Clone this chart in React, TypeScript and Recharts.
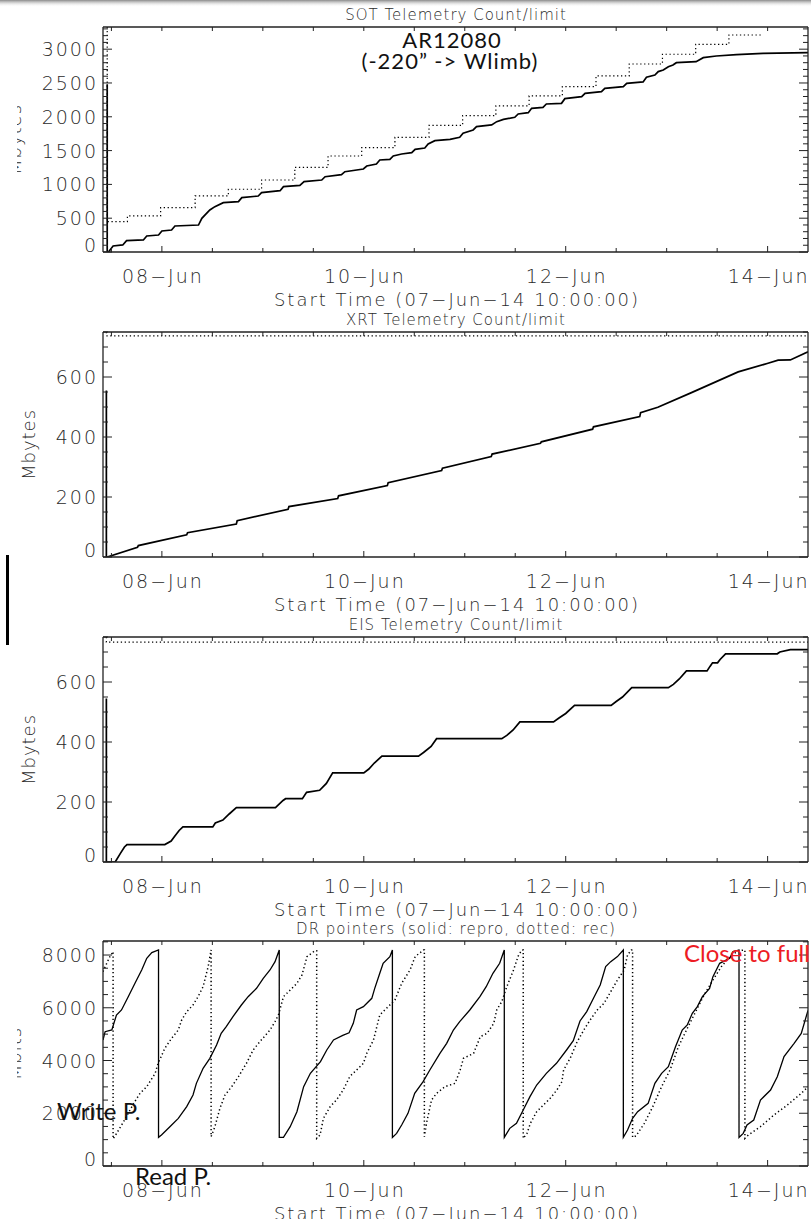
import React from "react";
import { LineChart, Line, XAxis, YAxis } from "recharts";

type Pt = [number, number];

// x in hours after 07-Jun-14 10:00
const X_MAX = 167.6;
const HOUR_TICKS = [2, 14, 26, 38, 50, 62, 74, 86, 98, 110, 122, 134, 146, 158];
const DAY_LABELS: Record<number, string> = { 14: "08−Jun", 62: "10−Jun", 110: "12−Jun", 158: "14−Jun" };

// SOT telemetry count (solid) and limit (dotted), Mbytes
const sotCount: Pt[] = [
  [1.0, 2480], [1.0, 0], [1.3, 0], [2.4, 89], [4.7, 104], [5.6, 168], [9.6, 178], [10.4, 237], [13.2, 251],
  [14, 311], [16.3, 325], [17.1, 385], [22.7, 399], [23.5, 498], [25.4, 621], [26.6, 671], [28.6, 730],
  [32.2, 745], [33, 804], [36.9, 828], [37.7, 878], [42.1, 907], [42.9, 966], [46.8, 986], [47.8, 1040],
  [52, 1065], [52.8, 1114], [56.7, 1144], [57.5, 1188], [61.9, 1228], [62.7, 1272], [65, 1302], [65.8, 1361],
  [68.2, 1371], [69, 1420], [71, 1450], [73.4, 1469], [74.2, 1519], [76.5, 1538], [77.3, 1598], [78.9, 1647],
  [82.5, 1667], [84.8, 1696], [85.6, 1756], [88, 1805], [88.8, 1854], [92.4, 1879], [93.6, 1928], [95.2, 1962],
  [97.9, 1992], [98.7, 2041], [101.1, 2061], [101.9, 2125], [104.6, 2140], [105.4, 2189], [109, 2199],
  [109.8, 2268], [113.8, 2298], [114.6, 2347], [118.5, 2372], [119.3, 2421], [123.7, 2446], [124.5, 2495],
  [128.4, 2515], [129.2, 2584], [131.2, 2618], [132, 2668], [133.2, 2692], [134.4, 2741], [135.5, 2766],
  [136.3, 2800], [141, 2815], [142.7, 2874], [145.8, 2899], [150.6, 2919], [156.9, 2938], [167.6, 2948],
];
const sotLimit: Pt[] = [
  [1.0, 3328], [1.0, 449], [5.8, 533], [13.7, 657], [21.9, 829], [29.8, 928], [37.7, 1065], [45.6, 1253],
  [53.5, 1420], [61.5, 1544], [69.4, 1696], [77.5, 1874], [85.5, 2017], [93.4, 2160], [101.3, 2308],
  [109.2, 2446], [117.2, 2604], [125.1, 2781], [133, 2925], [140.9, 3072], [148.8, 3210], [156.5, 3210],
];

// XRT
const xrtCount: Pt[] = [
  [0.8, 555], [0.8, 0], [1.0, 0], [8.2, 32], [8.4, 38], [19.9, 74], [20.1, 81], [31.7, 110], [31.9, 121],
  [44, 159], [44.2, 168], [55.8, 195], [56, 204], [67.6, 238], [67.8, 248], [80.5, 288], [80.7, 296],
  [92.3, 335], [92.5, 343], [104, 379], [104.2, 384], [116.4, 426], [116.6, 434], [127.6, 468], [127.8, 481],
  [131.9, 499], [139.9, 548], [151, 617], [157.9, 645], [160.5, 656], [163.4, 657], [167.6, 684],
];
const xrtLimit: Pt[] = [[0.8, 750], [0.8, 737], [167.6, 737]];

// EIS
const eisCount: Pt[] = [
  [0.8, 545], [0.8, 0], [2.9, 0], [4.1, 28], [5.1, 50], [5.7, 58], [14.7, 58], [16.2, 70], [17, 85], [18.1, 105],
  [19, 117], [26.1, 117], [26.7, 130], [28.5, 140], [30, 160], [31.7, 181], [41, 181], [42.8, 205], [43.4, 211],
  [47.4, 211], [48.4, 232], [51.5, 239], [53.1, 262], [54.6, 297], [62, 297], [63.2, 310], [64.5, 330],
  [66.3, 353], [75, 353], [76.2, 365], [78, 385], [79.3, 411], [94.8, 411], [96, 422], [97.5, 440], [99.1, 467],
  [107.1, 467], [108.4, 480], [110, 495], [112.1, 522], [120.8, 522], [122, 535], [123.5, 550], [125.7, 581],
  [134.4, 581], [135.6, 592], [137, 610], [138.7, 637], [143.6, 637], [144.3, 652], [144.9, 664], [146.1, 664],
  [146.7, 675], [148, 694], [160.3, 694], [160.9, 700], [163.4, 708], [167.6, 708],
];
const eisLimit: Pt[] = [[0.8, 750], [0.8, 733], [167.6, 733]];

// DR pointers, Mbits (solid: repro, dotted: rec)
const drRepro: Pt[] = [
  [0, 4778], [0.5, 5094], [2.1, 5157], [3.2, 5726], [4.4, 5916], [6.0, 6421], [7.6, 6927], [9.2, 7433],
  [10.4, 7875], [11.6, 8090], [13.2, 8191],
  [13.2, 1086], [13.9, 1175], [15.9, 1491], [17.9, 1807], [19.9, 2250], [21.4, 2692], [22.2, 3134],
  [23.8, 3703], [25.4, 4082], [27, 4588], [28.1, 5030], [29.3, 5283], [30.9, 5663], [32.9, 6105],
  [34.5, 6421], [36.5, 6737], [38.1, 7117], [39.7, 7433], [40.9, 7749], [41.9, 8191],
  [41.9, 1086], [42.9, 1086], [44.5, 1491], [46.1, 2060], [47.7, 3008], [49.3, 3514], [51.7, 3956],
  [53.2, 4399], [54.8, 4778], [57, 4950], [58.5, 5050], [59.5, 5410], [60.3, 5916], [61.9, 6042],
  [63.9, 6358], [64.6, 6737], [65.8, 7306], [66.6, 7686], [68.2, 7939], [68.8, 8191],
  [68.8, 1086], [69.8, 1238], [71, 1554], [72.5, 1997], [74.1, 2755], [76.1, 3198], [77.7, 3640],
  [80.1, 4272], [81.7, 4652], [83.3, 5157], [84.8, 5473], [87.2, 5916], [89.6, 6421], [91.1, 6800],
  [92.7, 7306], [94.3, 7686], [95.4, 8191],
  [95.4, 1086], [96.7, 1428], [98.3, 1617], [99.9, 2123], [101.5, 2629], [103.1, 3071], [105.4, 3514],
  [107.8, 3893], [110.2, 4399], [111.8, 4750], [113.4, 5500], [115, 5853], [116.6, 6358], [118.2, 6864],
  [119.5, 7559], [120.7, 7749], [122.3, 7939], [123.7, 8191],
  [123.7, 1086], [124.7, 1365], [125.9, 1807], [127.1, 2060], [129.6, 2376], [131.2, 3134], [132.8, 3514],
  [134.4, 3767], [136.1, 4525], [137.7, 5157], [138.9, 5347], [140.1, 5790], [141.3, 6042], [142.5, 6421],
  [144.2, 6737], [145, 7180], [146.6, 7686], [149, 7875], [149.8, 8128], [151.2, 8191],
  [151.2, 1086], [152.2, 1238], [153.1, 1554], [154.7, 1744], [156.3, 2502], [158.7, 2882], [160.3, 3387],
  [161.9, 4146], [164.3, 4652], [166, 5030], [167.6, 5900],
];
const drRec: Pt[] = [
  [0, 7370], [1.5, 7900], [2.4, 8130],
  [2.4, 1030], [3, 1175], [4.9, 1681], [7.3, 2376], [8.8, 2755], [10.4, 3008], [12.4, 3514], [13.1, 3893],
  [14.7, 4462], [16.3, 4841], [17.9, 5157], [18.7, 5536], [19.9, 5852], [21.4, 6105], [22.6, 6421],
  [23.8, 6800], [25, 7559], [25.7, 8191],
  [25.7, 1112], [26.6, 1491], [27.8, 2187], [29, 2692], [30.6, 3008], [32.2, 3387], [34.1, 3893],
  [35.7, 4399], [37.3, 4715], [39.7, 5157], [40.9, 5473], [41.7, 5726], [42.9, 6421], [44.5, 6674],
  [46.1, 6927], [47.3, 7243], [48.5, 7939], [50.4, 8166], [50.8, 8166],
  [50.8, 1049], [51.6, 1175], [52.4, 1807], [54, 2250], [55.5, 2502], [57.1, 2882], [58.7, 3400],
  [60.3, 3640], [61.9, 3893], [62.7, 4272], [64.3, 4778], [65.8, 5726], [67.8, 6042], [69.4, 6295],
  [71, 6927], [73, 7433], [74.2, 7939], [76.2, 8191], [76.4, 8191],
  [76.4, 1112], [76.9, 1617], [78.1, 2502], [79.3, 2755], [81.3, 3008], [83.7, 3134], [84.9, 3640],
  [85.7, 4082], [88.1, 4272], [89.7, 4905], [91.3, 5030], [92.9, 5410], [93.6, 5916], [94.8, 6232],
  [96, 6800], [97.6, 7433], [98.8, 8002], [99.6, 8191], [99.9, 8191],
  [99.9, 1049], [100.8, 1238], [101.6, 1617], [103.1, 2060], [104.7, 2313], [106.3, 2566], [107.9, 2882],
  [109.1, 3198], [109.5, 3640], [111.1, 4100], [112.7, 4700], [114.3, 5157], [115.8, 5536], [117.5, 5916],
  [119.1, 6169], [120.7, 6611], [122.3, 7053], [123.9, 7433], [124.7, 8002], [125.6, 8191], [125.9, 8191],
  [125.9, 1086], [126.7, 1137], [128.7, 1617], [130.7, 2250], [132.8, 3008], [134.8, 3640], [136.8, 4525],
  [138.9, 5220], [140.9, 5853], [142.9, 6484], [145, 7053], [147, 7559], [149, 7939], [151, 8166], [152.6, 8191],
  [152.6, 1049], [153.4, 1175], [156.3, 1491], [159.5, 1934], [162.7, 2313], [166, 2755], [167.6, 3008],
];

const AXIS = "#222";
const TXT = "#2a2a2a";
const IDL_FONT = "'DejaVu Sans', sans-serif";
const NOTE_FONT = "Lato, 'Open Sans', sans-serif";

const rows = (pts: Pt[]) => pts.map(([h, v]) => ({ h, v }));

type Series = { pts: Pt[]; dotted?: boolean; step?: boolean; width?: number };
type PanelCfg = {
  top: number; title: string; yLabel: string; cut: boolean;
  yMax: number; yStep: number; yMajor: number; series: Series[];
};

const panels: PanelCfg[] = [
  { top: 0, title: "SOT Telemetry Count/limit", yLabel: "Mbytes", cut: true, yMax: 3328, yStep: 100, yMajor: 500,
    series: [{ pts: sotCount, width: 1.7 }, { pts: sotLimit, dotted: true, step: true }] },
  { top: 305, title: "XRT Telemetry Count/limit", yLabel: "Mbytes", cut: false, yMax: 750, yStep: 50, yMajor: 200,
    series: [{ pts: xrtCount, width: 1.7 }, { pts: xrtLimit, dotted: true }] },
  { top: 610, title: "EIS Telemetry Count/limit", yLabel: "Mbytes", cut: false, yMax: 750, yStep: 50, yMajor: 200,
    series: [{ pts: eisCount, width: 1.7 }, { pts: eisLimit, dotted: true }] },
  { top: 914, title: "DR pointers (solid: repro, dotted: rec)", yLabel: "Mbits", cut: true, yMax: 8532, yStep: 500, yMajor: 2000,
    series: [{ pts: drRepro, width: 1.3 }, { pts: drRec, dotted: true, width: 1.5 }] },
];

const labelText = { fontFamily: IDL_FONT, fontWeight: 200, fontSize: 19, fill: TXT, letterSpacing: 2 };

function bottomTick(p: any) {
  const { x, y, payload } = p;
  const lab = DAY_LABELS[payload.value];
  return (
    <g>
      <line x1={x} x2={x} y1={y} y2={y - (lab ? 6 : 4)} stroke={AXIS} strokeWidth={1} />
      {lab ? <text x={x + 1} y={y + 31} textAnchor="middle" style={labelText}>{lab}</text> : null}
    </g>
  );
}

function topTick(p: any) {
  const { x, y } = p;
  return <line x1={x} x2={x} y1={y} y2={y + 4} stroke={AXIS} strokeWidth={1} />;
}

function leftTick(major: number) {
  return (p: any) => {
    const { x, y, payload } = p;
    const v = payload.value as number;
    const isMajor = v % major === 0;
    return (
      <g>
        <line x1={x} x2={x + (isMajor ? 9 : 5)} y1={y} y2={y} stroke={AXIS} strokeWidth={1} />
        {isMajor ? (
          <text x={x - 5} y={y + 7 - (v === 0 ? 7 : 0)} textAnchor="end" style={labelText}>{v}</text>
        ) : null}
      </g>
    );
  };
}

function rightTick(major: number) {
  return (p: any) => {
    const { x, y, payload } = p;
    const isMajor = (payload.value as number) % major === 0;
    return <line x1={x} x2={x - (isMajor ? 9 : 5)} y1={y} y2={y} stroke={AXIS} strokeWidth={1} />;
  };
}

function Panel({ cfg }: { cfg: PanelCfg }) {
  const yTicks: number[] = [];
  for (let v = 0; v <= cfg.yMax; v += cfg.yStep) yTicks.push(v);
  const axisLine = { stroke: AXIS, strokeWidth: 1.3 };
  return (
    <div style={{ position: "absolute", left: 0, top: cfg.top }}>
      <LineChart width={811} height={305} margin={{ top: 25, right: 0, bottom: 0, left: 0 }}>
        <XAxis xAxisId="b" dataKey="h" type="number" domain={[0, X_MAX]} allowDataOverflow ticks={HOUR_TICKS}
          interval={0} height={53} tickSize={0} tickMargin={0} tickLine={false} axisLine={axisLine} tick={bottomTick} />
        <XAxis xAxisId="t" orientation="top" dataKey="h" type="number" domain={[0, X_MAX]} allowDataOverflow
          ticks={HOUR_TICKS} interval={0} height={2} tickSize={0} tickMargin={0} tickLine={false} axisLine={axisLine} tick={topTick} />
        <YAxis yAxisId="l" type="number" domain={[0, cfg.yMax]} allowDataOverflow ticks={yTicks} interval={0}
          width={103} tickSize={0} tickMargin={0} tickLine={false} axisLine={axisLine} tick={leftTick(cfg.yMajor)} />
        <YAxis yAxisId="r" orientation="right" type="number" domain={[0, cfg.yMax]} allowDataOverflow ticks={yTicks}
          interval={0} width={3} tickSize={0} tickMargin={0} tickLine={false} axisLine={axisLine} tick={rightTick(cfg.yMajor)} />
        {cfg.series.map((s, i) => (
          <Line key={i} xAxisId="b" yAxisId="l" data={rows(s.pts)} dataKey="v" type={s.step ? "stepAfter" : "linear"}
            stroke="#000" strokeWidth={s.width ?? 1.2} strokeDasharray={s.dotted ? "1.3 2.6" : undefined}
            dot={false} activeDot={false} isAnimationActive={false} />
        ))}
      </LineChart>
    </div>
  );
}

export default function App() {
  return (
    <div style={{ position: "absolute", left: 0, top: 0, width: 811, height: 1225, background: "#fff", overflow: "hidden" }}>
      {panels.map((p) => <Panel key={p.title} cfg={p} />)}
      <svg width={811} height={1225} style={{ position: "absolute", left: 0, top: 0, pointerEvents: "none" }}>
        <defs>
          <linearGradient id="shade" x1="0" y1="0" x2="0" y2="1">
            <stop offset="0" stopColor="#8a8a8a" />
            <stop offset="1" stopColor="#ffffff" stopOpacity="0" />
          </linearGradient>
          <clipPath id="cutLeft">
            <rect x={17} y={0} width={80} height={1225} />
          </clipPath>
        </defs>
        <rect x={0} y={0} width={811} height={7} fill="url(#shade)" />
        {panels.map((p) => {
          const cy = p.top + 27 + 112.5;
          const bx = p.cut ? 21 : 35;
          return (
            <g key={p.title} style={{ fontFamily: IDL_FONT, fontWeight: 200, fill: TXT }}>
              <text x={456} y={p.top + 20} textAnchor="middle" fontSize={15} letterSpacing={1}>{p.title}</text>
              <text x={457} y={p.top + 306} textAnchor="middle" fontSize={18} letterSpacing={2}>
                Start Time (07−Jun−14 10:00:00)
              </text>
              <g clipPath={p.cut ? "url(#cutLeft)" : undefined}>
                <text x={bx} y={cy} textAnchor="middle" fontSize={18} letterSpacing={1}
                  transform={`rotate(-90 ${bx} ${cy})`}>{p.yLabel}</text>
              </g>
            </g>
          );
        })}
        <rect x={6} y={555} width={3} height={90} fill="#000" />
        <g style={{ fontFamily: NOTE_FONT }} fill="#111">
          <text x={452} y={48} textAnchor="middle" fontSize={22} letterSpacing={1}>AR12080</text>
          <text x={450} y={69} textAnchor="middle" fontSize={22} letterSpacing={1}>(-220” -&gt; Wlimb)</text>
          <text x={57} y={1120} fontSize={24}>Write P.</text>
          <text x={135} y={1185} fontSize={24}>Read P.</text>
          <text x={684} y={962} fontSize={24} fill="#ed1c24">Close to full</text>
        </g>
        <rect x={0} y={1219} width={811} height={6} fill="#fff" />
      </svg>
    </div>
  );
}
